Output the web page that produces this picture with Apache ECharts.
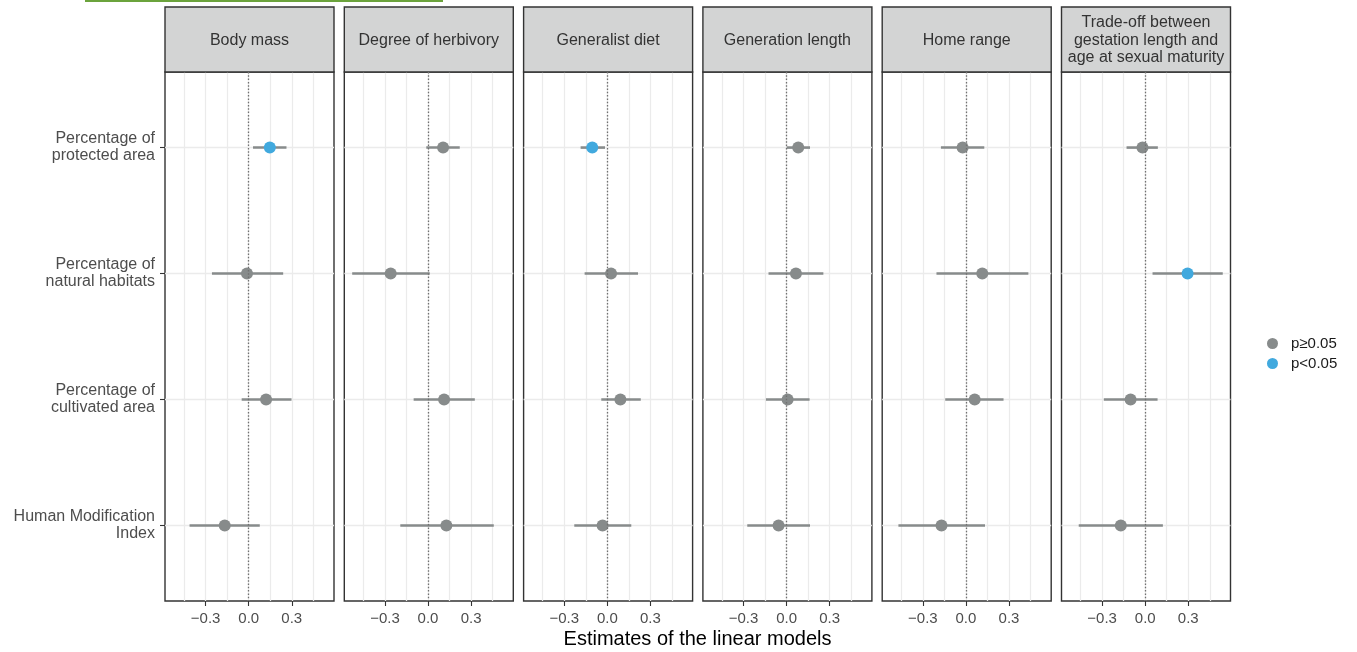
<!DOCTYPE html>
<html>
<head>
<meta charset="utf-8">
<script src="https://cdn.jsdelivr.net/npm/echarts@6/dist/echarts.min.js"></script>
<style>
html,body{margin:0;padding:0;background:#fff;}
#chart{width:1357px;height:652px;}
</style>
</head>
<body>
<div id="chart"></div>
<script>
// ---- Data ----
const panelTitles = ['Body mass', 'Degree of herbivory', 'Generalist diet', 'Generation length', 'Home range',
  'Trade-off between\ngestation length and\nage at sexual maturity'];
const predictors = ['Percentage of\nprotected area', 'Percentage of\nnatural habitats',
  'Percentage of\ncultivated area', 'Human Modification\nIndex'];
const xTickLabels = [-0.3, 0.0, 0.3];
const xMinorGrid = [-0.45, -0.3, -0.15, 0, 0.15, 0.3, 0.45];
const legendNames = ['p\u22650.05', 'p<0.05'];

// rows: [estimate, lower, upper, significant(1 = p<0.05)] in predictor order
const bodyMass    = [[0.147, 0.030, 0.263, 1], [-0.012, -0.256, 0.240, 0], [0.121, -0.049, 0.298, 0], [-0.167, -0.412, 0.077, 0]];
const herbivory   = [[0.105, -0.012, 0.221, 0], [-0.260, -0.528, 0.012, 0], [0.112, -0.100, 0.326, 0], [0.128, -0.193, 0.458, 0]];
const generalist  = [[-0.105, -0.186, -0.016, 1], [0.026, -0.158, 0.214, 0], [0.091, -0.042, 0.233, 0], [-0.033, -0.230, 0.167, 0]];
const generation  = [[0.081, 0.000, 0.163, 0], [0.065, -0.126, 0.256, 0], [0.007, -0.144, 0.160, 0], [-0.056, -0.274, 0.163, 0]];
const homeRange   = [[-0.023, -0.174, 0.128, 0], [0.114, -0.205, 0.435, 0], [0.061, -0.144, 0.262, 0], [-0.170, -0.470, 0.133, 0]];
const tradeOff    = [[-0.019, -0.130, 0.088, 0], [0.295, 0.051, 0.540, 1], [-0.102, -0.288, 0.086, 0], [-0.170, -0.463, 0.123, 0]];
const panelData = [bodyMass, herbivory, generalist, generation, homeRange, tradeOff];

// ---- Style / layout ----
const FONT = '"Liberation Sans", Arial, Helvetica, sans-serif';
const GRAY = '#878B8B';
const BLUE = '#41A9DE';
const XMIN = -0.583, XMAX = 0.594;
const PLEFT = 165, PSTEP = 179.3, PW = 169, PTOP = 72, PH = 529, STRIP_TOP = 7;

const chart = echarts.init(document.getElementById('chart'), null, {renderer: 'canvas'});

const grids = [], xAxes = [], yAxes = [], series = [], graphics = [];
const fmt = v => (v < 0 ? '\u2212' : '') + Math.abs(v).toFixed(1);

panelData.forEach((rows, i) => {
  const left = PLEFT + i * PSTEP;
  grids.push({left: left, top: PTOP, width: PW, height: PH, show: true,
    borderColor: '#333333', borderWidth: 1.4, backgroundColor: '#fff', containLabel: false});
  // gridline axis
  xAxes.push({type: 'value', gridIndex: i, min: XMIN, max: XMAX, position: 'bottom',
    axisLine: {show: false, onZero: false}, axisLabel: {show: false},
    axisTick: {show: false, customValues: xMinorGrid},
    splitLine: {show: true, lineStyle: {color: '#EBEBEB', width: 1.25}}});
  // label axis
  xAxes.push({type: 'value', gridIndex: i, min: XMIN, max: XMAX, position: 'bottom',
    axisLine: {show: false, onZero: false},
    axisTick: {show: true, length: 5, customValues: xTickLabels, lineStyle: {color: '#333333', width: 1.1}},
    axisLabel: {show: true, customValues: xTickLabels, formatter: fmt, margin: 10,
      color: '#4D4D4D', fontSize: 15, fontFamily: FONT},
    splitLine: {show: false}});
  yAxes.push({type: 'value', gridIndex: i, min: -0.6, max: 3.6, inverse: true, position: 'left',
    axisLine: {show: false, onZero: false},
    axisTick: {show: i === 0, length: 5, customValues: [0, 1, 2, 3], lineStyle: {color: '#333333', width: 1.1}},
    axisLabel: {show: i === 0, customValues: [0, 1, 2, 3], margin: 10,
      formatter: v => predictors[Math.round(v)], color: '#4D4D4D', fontSize: 16,
      lineHeight: 17, fontFamily: FONT, align: 'right', padding: [4, 0, 0, 0]},
    splitLine: {show: true, lineStyle: {color: '#EBEBEB', width: 1.4}}});

  const ci = rows.map((r, k) => [r[1], r[2], k]);
  series.push({type: 'custom', xAxisIndex: 2 * i, yAxisIndex: i, z: 3,
    encode: {x: [0, 1], y: 2},
    data: ci,
    renderItem: (params, api) => {
      const y = api.value(2);
      const a = api.coord([api.value(0), y]);
      const b = api.coord([api.value(1), y]);
      return {type: 'line', shape: {x1: a[0], y1: a[1], x2: b[0], y2: b[1]},
        style: {stroke: GRAY, lineWidth: 2.6}};
    },
    markLine: {silent: true, symbol: ['none', 'none'], label: {show: false}, z: 10,
      lineStyle: {color: '#707070', type: [1.5, 1.8], width: 1.3},
      data: [{xAxis: 0}]}
  });
  series.push({type: 'scatter', name: legendNames[0], xAxisIndex: 2 * i, yAxisIndex: i, z: 4,
    symbol: 'circle', symbolSize: 12, itemStyle: {color: GRAY, opacity: 1},
    data: rows.map((r, k) => [r[0], k]).filter((d, k) => rows[k][3] === 0)});
  series.push({type: 'scatter', name: legendNames[1], xAxisIndex: 2 * i, yAxisIndex: i, z: 4,
    symbol: 'circle', symbolSize: 12, itemStyle: {color: BLUE, opacity: 1},
    data: rows.map((r, k) => [r[0], k]).filter((d, k) => rows[k][3] === 1)});

  // strip header
  graphics.push({type: 'rect', shape: {x: left, y: STRIP_TOP, width: PW, height: PTOP - STRIP_TOP},
    style: {fill: '#D3D4D4', stroke: '#333333', lineWidth: 1.4}, z: 1});
  graphics.push({type: 'text', x: left + PW / 2, y: (STRIP_TOP + PTOP) / 2 + 1, z: 2,
    style: {text: panelTitles[i], align: 'center', verticalAlign: 'middle',
      font: '16px ' + FONT, fill: '#333333', lineHeight: 17.5}});
});

graphics.push({type: 'line', shape: {x1: 85, y1: 1, x2: 443, y2: 1},
  style: {stroke: '#6BA33C', lineWidth: 2}});
graphics.push({type: 'text', x: 697.5, y: 639,
  style: {text: 'Estimates of the linear models', align: 'center', verticalAlign: 'middle',
    font: '20px ' + FONT, fill: '#000000'}});

chart.setOption({
  animation: false,
  backgroundColor: '#ffffff',
  grid: grids,
  xAxis: xAxes,
  yAxis: yAxes,
  series: series,
  graphic: graphics,
  legend: {data: legendNames, orient: 'vertical', left: 1262, top: 331,
    icon: 'circle', itemWidth: 27, itemHeight: 11, itemGap: 5,
    textStyle: {fontSize: 15, color: '#1A1A1A', fontFamily: FONT}}
});
</script>
</body>
</html>
